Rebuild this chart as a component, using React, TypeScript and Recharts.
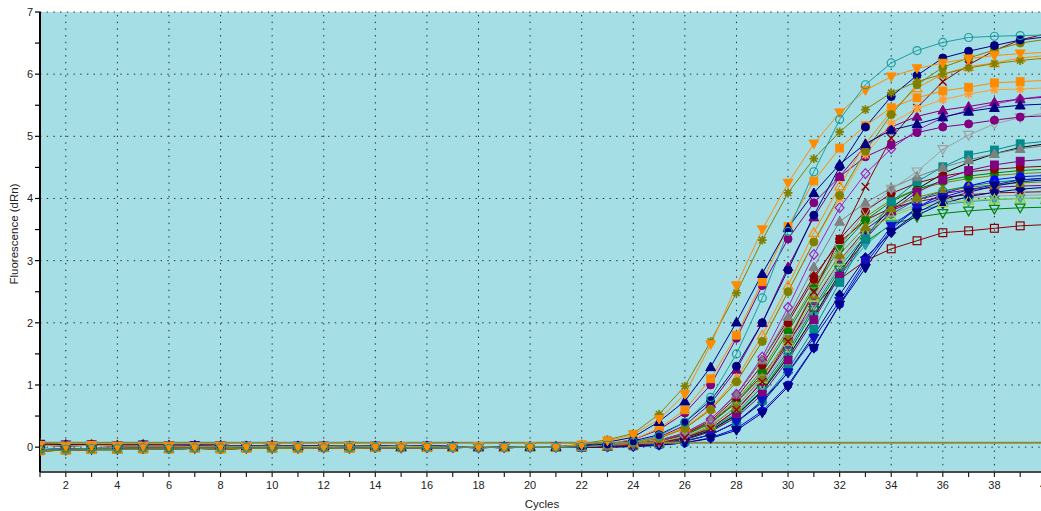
import React from 'react';
import { LineChart, Line, XAxis, YAxis, CartesianGrid, ReferenceLine } from 'recharts';

// ---------- axes / grid values ----------
const CYCLES = [1,2,3,4,5,6,7,8,9,10,11,12,13,14,15,16,17,18,19,20,21,22,23,24,25,26,27,28,29,30,31,32,33,34,35,36,37,38,39,40];
const X_TICKS = CYCLES;
const Y_TICKS = [0,0.5,1,1.5,2,2.5,3,3.5,4,4.5,5,5.5,6,6.5,7];
const Y_GRID = [0,1,2,3,4,5,6,7];
const X_GRID = [2,4,6,8,10,12,14,16,18,20,22,24,26,28,30,32,34,36,38];
const THRESHOLD = 0.07;
const Y_TITLE = 'Fluorescence (dRn)';
const X_TITLE = 'Cycles';

// ---------- baseline readings, cycles 1..21 ----------
const BASE_A = [0.03,0.02,0.03,0.02,0.02,0.02,0.01,0.02,0.01,0.02,0.01,0.01,0.02,0.01,0.01,0.01,0.0,0.01,0.0,0.01,0.0];
const BASE_B = [-0.04,-0.03,-0.02,-0.02,-0.01,-0.02,-0.01,-0.01,0.0,-0.01,0.0,-0.01,0.0,0.0,-0.01,0.0,0.0,-0.01,0.0,0.0,0.0];
const BASE_C = [0.05,0.04,0.04,0.03,0.04,0.03,0.03,0.03,0.02,0.03,0.02,0.02,0.02,0.02,0.01,0.02,0.01,0.01,0.01,0.01,0.01];
const BASE_D = [-0.06,-0.05,-0.04,-0.04,-0.03,-0.03,-0.02,-0.03,-0.02,-0.02,-0.02,-0.01,-0.02,-0.01,-0.01,-0.01,-0.01,0.0,-0.01,0.0,0.0];

// ---------- amplification readings, cycles 22..40 ----------
const S01 = [0.01,0.03,0.08,0.18,0.4,0.8,1.5,2.4,3.47,4.43,5.27,5.83,6.18,6.38,6.51,6.59,6.61,6.62,6.63];
const S02 = [0.04,0.1,0.2,0.45,0.85,1.65,2.6,3.5,4.25,4.88,5.38,5.74,5.96,6.09,6.18,6.25,6.3,6.33,6.35];
const S03 = [0.05,0.12,0.22,0.53,0.98,1.7,2.48,3.33,4.09,4.64,5.07,5.43,5.7,5.88,6.0,6.1,6.17,6.22,6.26];
const S04 = [0.03,0.08,0.16,0.41,0.74,1.29,2.01,2.79,3.53,4.09,4.55,4.88,5.1,5.2,5.31,5.4,5.46,5.5,5.52];
const S05 = [0.02,0.05,0.1,0.2,0.4,0.75,1.3,2.0,2.85,3.73,4.51,5.15,5.64,5.98,6.26,6.37,6.46,6.55,6.6];
const S06 = [0.01,0.03,0.06,0.14,0.3,0.6,1.05,1.7,2.5,3.3,4.05,4.76,5.35,5.83,6.11,6.26,6.39,6.5,6.56];
const S07 = [0.02,0.05,0.12,0.3,0.6,1.1,1.8,2.66,3.55,4.28,4.81,5.17,5.46,5.62,5.73,5.79,5.86,5.88,5.9];
const S08 = [0.01,0.03,0.07,0.15,0.32,0.62,1.1,1.8,2.6,3.45,4.2,4.88,5.4,5.78,6.0,6.12,6.18,6.26,6.3];
const S09 = [0.01,0.03,0.07,0.15,0.3,0.6,1.05,1.7,2.5,3.3,4.0,4.7,5.21,5.45,5.59,5.68,5.75,5.76,5.78];
const S10 = [0.0,0.01,0.03,0.07,0.15,0.3,0.6,1.05,1.7,2.5,3.35,4.19,4.97,5.46,5.88,6.15,6.38,6.55,6.65];
const S11 = [0.02,0.05,0.12,0.28,0.55,1.0,1.75,2.6,3.35,3.93,4.35,4.67,4.86,5.06,5.15,5.2,5.26,5.31,5.33];
const S12 = [0.01,0.03,0.07,0.16,0.35,0.7,1.25,2.0,2.9,3.7,4.35,4.85,5.15,5.32,5.42,5.48,5.55,5.6,5.63];
const S13 = [0.01,0.02,0.05,0.1,0.22,0.45,0.85,1.45,2.25,3.1,3.85,4.4,4.8,5.1,5.3,5.42,5.52,5.6,5.65];
const S14 = [0.01,0.02,0.04,0.08,0.17,0.35,0.65,1.1,1.75,2.5,3.2,3.8,4.15,4.43,4.79,5.02,5.2,5.3,5.38];
const S15 = [0.0,0.01,0.02,0.05,0.1,0.2,0.4,0.75,1.25,1.9,2.65,3.35,3.95,4.27,4.51,4.7,4.78,4.88,4.92];
const S16 = [0.01,0.02,0.05,0.1,0.22,0.45,0.85,1.4,2.1,2.9,3.63,3.93,4.17,4.35,4.5,4.62,4.72,4.8,4.85];
const S17 = [0.0,0.0,0.01,0.03,0.07,0.14,0.27,0.55,0.97,1.59,2.29,2.88,3.46,3.77,3.98,4.1,4.2,4.27,4.3];
const S18 = [0.0,0.01,0.02,0.04,0.09,0.2,0.4,0.75,1.2,1.75,2.35,3.0,3.55,3.85,4.02,4.14,4.22,4.3,4.33];
const S19 = [0.01,0.02,0.05,0.1,0.2,0.4,0.72,1.15,1.7,2.25,2.7,3.0,3.19,3.32,3.45,3.48,3.52,3.56,3.58];
const S20 = [0.0,0.01,0.03,0.06,0.13,0.27,0.52,0.92,1.5,2.2,2.85,3.3,3.58,3.7,3.76,3.8,3.83,3.85,3.86];
const S21 = [0.01,0.02,0.05,0.1,0.2,0.4,0.75,1.25,1.9,2.6,3.25,3.7,3.98,4.15,4.25,4.32,4.37,4.4,4.42];
const S22 = [0.01,0.02,0.05,0.11,0.23,0.45,0.85,1.4,2.05,2.75,3.3,3.65,3.85,3.95,4.02,4.06,4.09,4.1,4.11];
const S23 = [0.0,0.01,0.03,0.07,0.15,0.3,0.6,1.05,1.65,2.35,3.0,3.5,3.8,3.98,4.08,4.14,4.18,4.2,4.21];
const S24 = [0.0,0.01,0.03,0.06,0.12,0.25,0.5,0.9,1.45,2.1,2.75,3.25,3.6,3.8,3.9,3.95,3.98,4.0,4.01];
const S25 = [0.0,0.01,0.03,0.06,0.13,0.27,0.52,0.9,1.45,2.1,2.8,3.4,3.85,4.15,4.4,4.58,4.72,4.82,4.88];
const S26 = [0.01,0.02,0.04,0.09,0.19,0.38,0.72,1.2,1.85,2.55,3.2,3.65,3.95,4.15,4.28,4.36,4.41,4.45,4.47];
const S27 = [0.0,0.01,0.03,0.07,0.15,0.3,0.58,1.0,1.6,2.3,2.95,3.45,3.75,3.9,3.97,4.01,4.04,4.05,4.06];
const S28 = [0.0,0.01,0.02,0.05,0.1,0.2,0.4,0.72,1.2,1.8,2.45,3.05,3.45,3.73,3.92,4.03,4.1,4.15,4.18];
const S29 = [0.01,0.02,0.05,0.1,0.21,0.42,0.8,1.32,2.0,2.7,3.35,3.8,4.08,4.25,4.36,4.43,4.47,4.5,4.52];
const S30 = [0.0,0.01,0.03,0.07,0.14,0.29,0.55,0.97,1.55,2.25,2.9,3.4,3.75,3.98,4.12,4.2,4.26,4.3,4.32];
const S31 = [0.0,0.01,0.03,0.06,0.12,0.25,0.48,0.85,1.4,2.05,2.75,3.35,3.8,4.1,4.3,4.45,4.54,4.6,4.63];
const S32 = [0.01,0.02,0.04,0.08,0.17,0.34,0.65,1.1,1.7,2.4,3.0,3.45,3.72,3.86,3.93,3.97,3.99,4.0,4.01];
const S33 = [0.0,0.0,0.01,0.03,0.07,0.15,0.3,0.58,1.0,1.6,2.3,2.95,3.5,3.85,4.08,4.2,4.3,4.35,4.37];
const S34 = [0.0,0.01,0.03,0.07,0.16,0.33,0.65,1.12,1.75,2.45,3.1,3.55,3.85,4.02,4.12,4.18,4.22,4.25,4.27];

// ---------- series styling ----------
const CURVES = [
  { vals: S19, base: BASE_A, color: '#8B0000', shape: 'sq', hollow: true },
  { vals: S20, base: BASE_B, color: '#008000', shape: 'td', hollow: true },
  { vals: S21, base: BASE_C, color: '#808000', shape: 'di', hollow: false },
  { vals: S22, base: BASE_D, color: '#8B0000', shape: 'di', hollow: false },
  { vals: S23, base: BASE_A, color: '#800080', shape: 'tu', hollow: false },
  { vals: S24, base: BASE_B, color: '#20A0A8', shape: 'td', hollow: false },
  { vals: S25, base: BASE_C, color: '#000000', shape: 'pl', hollow: false },
  { vals: S26, base: BASE_D, color: '#008000', shape: 'ci', hollow: false },
  { vals: S27, base: BASE_A, color: '#A0A0A0', shape: 'td', hollow: true },
  { vals: S28, base: BASE_B, color: '#000080', shape: 'di', hollow: false },
  { vals: S29, base: BASE_C, color: '#8B0000', shape: 'ci', hollow: false },
  { vals: S30, base: BASE_D, color: '#008080', shape: 'ci', hollow: true },
  { vals: S31, base: BASE_A, color: '#800080', shape: 'sq', hollow: false },
  { vals: S32, base: BASE_B, color: '#9ACD32', shape: 'tu', hollow: true },
  { vals: S33, base: BASE_C, color: '#0000FF', shape: 'ci', hollow: false },
  { vals: S34, base: BASE_D, color: '#808000', shape: 'tu', hollow: false },
  { vals: S15, base: BASE_A, color: '#008B8B', shape: 'sq', hollow: false },
  { vals: S16, base: BASE_B, color: '#808080', shape: 'tu', hollow: false },
  { vals: S18, base: BASE_C, color: '#1010C0', shape: 'td', hollow: false },
  { vals: S17, base: BASE_D, color: '#000080', shape: 'td', hollow: false },
  { vals: S14, base: BASE_A, color: '#A0A0A0', shape: 'td', hollow: true },
  { vals: S13, base: BASE_B, color: '#A020C0', shape: 'di', hollow: true },
  { vals: S12, base: BASE_C, color: '#800080', shape: 'tu', hollow: false },
  { vals: S11, base: BASE_D, color: '#800080', shape: 'ci', hollow: false },
  { vals: S10, base: BASE_A, color: '#8B0000', shape: 'x', hollow: false },
  { vals: S09, base: BASE_B, color: '#FF9F30', shape: 'st', hollow: false },
  { vals: S08, base: BASE_C, color: '#FF8C00', shape: 'tu', hollow: true },
  { vals: S07, base: BASE_D, color: '#FF8C00', shape: 'sq', hollow: false },
  { vals: S06, base: BASE_A, color: '#808000', shape: 'ci', hollow: false },
  { vals: S05, base: BASE_B, color: '#000080', shape: 'ci', hollow: false },
  { vals: S04, base: BASE_C, color: '#000080', shape: 'tu', hollow: false },
  { vals: S03, base: BASE_D, color: '#808000', shape: 'st', hollow: false },
  { vals: S02, base: BASE_A, color: '#FF8C00', shape: 'td', hollow: false },
  { vals: S01, base: BASE_B, color: '#1A9E9E', shape: 'ci', hollow: true },
];

const data = CYCLES.map((c) => {
  const row: Record<string, number> = { cycle: c };
  CURVES.forEach((cv, i) => {
    row['s' + i] = c <= 21 ? cv.base[c - 1] : cv.vals[c - 22];
  });
  return row;
});

function Marker(props: any) {
  const { cx, cy, color, shape, hollow } = props;
  if (cx == null || cy == null || isNaN(cx) || isNaN(cy)) return null;
  const s = 4.4;
  const fill = hollow ? 'none' : color;
  const sw = hollow ? 1.2 : 1;
  switch (shape) {
    case 'tu':
      return <polygon points={`${cx},${cy - s - 0.5} ${cx + s + 0.5},${cy + s * 0.85} ${cx - s - 0.5},${cy + s * 0.85}`} fill={fill} stroke={color} strokeWidth={sw} />;
    case 'td':
      return <polygon points={`${cx},${cy + s + 0.5} ${cx + s + 0.5},${cy - s * 0.85} ${cx - s - 0.5},${cy - s * 0.85}`} fill={fill} stroke={color} strokeWidth={sw} />;
    case 'sq':
      return <rect x={cx - 3.9} y={cy - 3.9} width={7.8} height={7.8} fill={fill} stroke={color} strokeWidth={sw} />;
    case 'ci':
      return <circle cx={cx} cy={cy} r={4} fill={fill} stroke={color} strokeWidth={sw} />;
    case 'di':
      return <polygon points={`${cx},${cy - s - 0.5} ${cx + s},${cy} ${cx},${cy + s + 0.5} ${cx - s},${cy}`} fill={fill} stroke={color} strokeWidth={sw} />;
    case 'st':
      return (
        <path
          d={`M${cx - s},${cy} L${cx + s},${cy} M${cx},${cy - s} L${cx},${cy + s} M${cx - 3.2},${cy - 3.2} L${cx + 3.2},${cy + 3.2} M${cx - 3.2},${cy + 3.2} L${cx + 3.2},${cy - 3.2}`}
          stroke={color}
          strokeWidth={1.7}
          fill="none"
        />
      );
    case 'x':
      return <path d={`M${cx - 3.8},${cy - 3.8} L${cx + 3.8},${cy + 3.8} M${cx - 3.8},${cy + 3.8} L${cx + 3.8},${cy - 3.8}`} stroke={color} strokeWidth={1.4} fill="none" />;
    case 'pl':
      return <path d={`M${cx - 4.2},${cy} L${cx + 4.2},${cy} M${cx},${cy - 4.2} L${cx},${cy + 4.2}`} stroke={color} strokeWidth={1.4} fill="none" />;
    default:
      return null;
  }
}

const FONT = '"Liberation Sans", Arial, sans-serif';
const tickStyle = { fontSize: 11, fill: '#222', fontFamily: FONT };

export default function App() {
  return (
    <div style={{ position: 'fixed', left: 0, top: 0, width: 1041, height: 511, overflow: 'hidden', background: '#ffffff' }}>
      <LineChart width={1060} height={511} data={data} margin={{ top: 12, right: 14, bottom: 0, left: 0 }}>
        <CartesianGrid fill="#A6DEE6" stroke="none" horizontal={false} vertical={false} />
        {Y_GRID.map((v) => (
          <ReferenceLine key={'hg' + v} y={v} stroke="#1e2e34" strokeWidth={1} strokeDasharray="1.4 5.3" />
        ))}
        {X_GRID.map((v) => (
          <ReferenceLine key={'vg' + v} x={v} stroke="#1e2e34" strokeWidth={1} strokeDasharray="1.4 5.3" />
        ))}
        <XAxis
          dataKey="cycle"
          type="number"
          domain={[1, 40]}
          ticks={X_TICKS}
          interval={0}
          tickFormatter={(v: number) => (v % 2 === 0 ? String(v) : '')}
          height={39}
          axisLine={{ stroke: '#4a4a4a', strokeWidth: 2 }}
          tickLine={{ stroke: '#222', strokeWidth: 1.2 }}
          tickSize={5}
          tickMargin={4}
          tick={tickStyle}
          allowDataOverflow
        />
        <YAxis
          type="number"
          domain={[-0.4, 7]}
          ticks={Y_TICKS}
          interval={0}
          tickFormatter={(v: number) => (Number.isInteger(v) ? String(v) : '')}
          width={40}
          axisLine={{ stroke: '#000', strokeWidth: 2 }}
          tickLine={{ stroke: '#000', strokeWidth: 1.2 }}
          tickSize={5}
          tickMargin={2}
          tick={tickStyle}
          allowDataOverflow
        />
        {CURVES.map((cv, i) => (
          <Line
            key={'s' + i}
            dataKey={'s' + i}
            type="linear"
            stroke={cv.color}
            strokeWidth={1}
            isAnimationActive={false}
            dot={(p: any) => <Marker key={'m' + i + '-' + p.index} cx={p.cx} cy={p.cy} color={cv.color} shape={cv.shape} hollow={cv.hollow} />}
            activeDot={false}
          />
        ))}
        <ReferenceLine y={THRESHOLD} stroke="#8A8A3C" strokeWidth={2} />
      </LineChart>
      <div
        style={{
          position: 'absolute', left: -86, top: 227, width: 200, height: 14, lineHeight: '14px',
          textAlign: 'center', transform: 'rotate(-90deg)', fontFamily: FONT, fontSize: 11.5, color: '#222',
        }}
      >
        {Y_TITLE}
      </div>
      <div
        style={{
          position: 'absolute', left: 492, top: 497, width: 100, height: 14, lineHeight: '14px',
          textAlign: 'center', fontFamily: FONT, fontSize: 11.5, color: '#222',
        }}
      >
        {X_TITLE}
      </div>
    </div>
  );
}
